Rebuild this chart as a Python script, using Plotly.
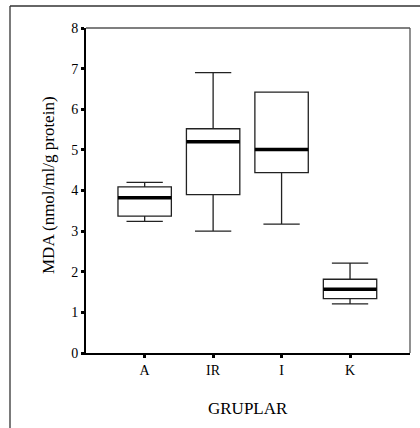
import plotly.graph_objects as go

groups = ["A", "IR", "I", "K"]
lower_whisker = [3.24, 3.00, 3.17, 1.21]
q1 = [3.37, 3.90, 4.44, 1.34]
median = [3.82, 5.20, 5.01, 1.57]
q3 = [4.09, 5.52, 6.42, 1.815]
upper_whisker = [4.20, 6.90, 6.42, 2.21]
y_ticks = [0, 1, 2, 3, 4, 5, 6, 7, 8]

positions = list(range(1, len(groups) + 1))
box_w = 0.78
FONT = "Liberation Serif, Times New Roman, serif"

fig = go.Figure()
fig.add_trace(go.Box(
    x=positions, q1=q1, median=median, q3=q3,
    lowerfence=lower_whisker, upperfence=upper_whisker,
    width=box_w, whiskerwidth=0.68,
    fillcolor="white", line=dict(color="#222222", width=1.3),
    boxpoints=False, showlegend=False, hoverinfo="skip",
))
for p, m in zip(positions, median):
    fig.add_trace(go.Scatter(
        x=[p - box_w / 2, p + box_w / 2], y=[m, m], mode="lines",
        line=dict(color="black", width=3.5), showlegend=False, hoverinfo="skip",
    ))

L, R, T, B = 86, 10, 28, 75
W, H = 420, 428
pw, ph = W - L - R, H - T - B

def px_x(x):
    return (x - L) / pw

def px_y(y):
    return (H - B - y) / ph

shapes = [
    dict(type="line", xref="paper", yref="paper", x0=px_x(10), x1=px_x(10), y0=px_y(6), y1=px_y(430),
         line=dict(color="#333333", width=1.3)),
    dict(type="line", xref="paper", yref="paper", x0=px_x(10), x1=px_x(422), y0=px_y(6), y1=px_y(6),
         line=dict(color="#333333", width=1.3)),
    dict(type="line", xref="paper", yref="paper", x0=0, x1=1, y0=1, y1=1,
         line=dict(color="#555555", width=1.3)),
    dict(type="line", xref="paper", yref="paper", x0=1, x1=1, y0=0, y1=1,
         line=dict(color="#555555", width=1.3)),
]

annotations = [
    dict(text="MDA (nmol/ml/g protein)", xref="paper", yref="paper",
         x=px_x(48), y=px_y(185), textangle=-90, showarrow=False,
         xanchor="center", yanchor="middle", font=dict(family=FONT, size=17, color="black")),
    dict(text="GRUPLAR", xref="paper", yref="paper",
         x=px_x(248), y=px_y(408), showarrow=False,
         xanchor="center", yanchor="middle", font=dict(family=FONT, size=17, color="black")),
]

fig.update_layout(
    width=W, height=H,
    margin=dict(l=L, r=R, t=T, b=B),
    paper_bgcolor="white", plot_bgcolor="white",
    font=dict(family=FONT, color="black", size=14),
    hovermode=False,
    shapes=shapes, annotations=annotations,
    xaxis=dict(
        range=[0.143, 4.876], tickvals=positions, ticktext=groups,
        showgrid=False, zeroline=False, showline=True, linecolor="black", linewidth=1.8,
        ticks="outside", ticklen=3, tickwidth=3, tickcolor="black",
        tickfont=dict(family=FONT, size=14, color="black"),
    ),
    yaxis=dict(
        range=[0, 8], tickvals=y_ticks,
        showgrid=False, zeroline=False, showline=True, linecolor="black", linewidth=1.8,
        ticks="outside", ticklen=3, tickwidth=3, tickcolor="black",
        tickfont=dict(family=FONT, size=14, color="black"),
    ),
)

fig.write_html("out.html", config={"displayModeBar": False},
               post_script="document.body.style.margin='0px';")
